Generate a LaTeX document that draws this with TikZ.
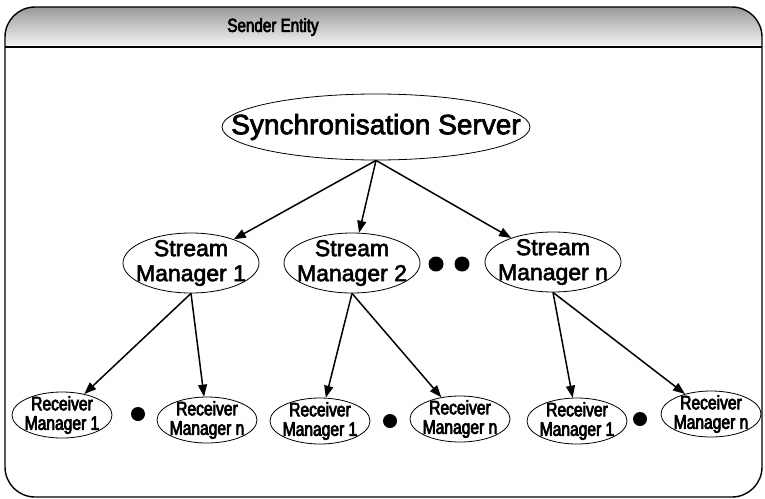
\documentclass[tikz,border=0pt]{standalone}
\usepackage{fontspec}
\setmainfont{Liberation Sans}[FakeBold=2.5]
\newfontfamily\narrowfont{Liberation Sans}[FakeStretch=0.8, FakeBold=3.5]
\usetikzlibrary{arrows.meta,shapes.geometric}

\begin{document}
\begin{tikzpicture}[
    x=1pt, y=-1pt,
    oval/.style={ellipse, draw=black, line width=0.8pt, inner sep=0pt},
    srv/.style={oval, minimum width=308pt, minimum height=66pt,
        label={[font=\fontsize{28}{32}\selectfont]center:#1}},
    mgr/.style={oval, minimum width=136pt, minimum height=60pt,
        label={[align=center, font=\fontsize{23}{25}\selectfont]center:#1}},
    rcv/.style={oval, minimum width=100pt, minimum height=46pt,
        label={[align=center, font=\narrowfont\fontsize{19.5}{19.5}\selectfont]center:#1}},
    blob/.style={circle, fill=black, inner sep=0pt, minimum size=15pt},
    link/.style={line width=1.5pt, -{Triangle[length=12pt, width=9pt]}},
    frame/.style={line width=1.4pt, rounded corners=30pt}
]

\useasboundingbox (0,0) rectangle (765,498);

% outer box with shaded title band
\begin{scope}
    \clip[rounded corners=30pt] (5,7) rectangle (762,497);
    \shade[top color=black!40, bottom color=black!3] (5,7) rectangle (762,47);
\end{scope}
\draw[frame] (5,7) rectangle (762,497);
\draw[line width=1.2pt] (5,47) -- (762,47);
\node[font=\narrowfont\fontsize{19}{20}\selectfont] (hdr) at (273,27) {Sender Entity};

% server and stream managers
\node[srv={Synchronisation Server}] (srv) at (376,127) {};
\node[mgr={Stream\\Manager 1}] (sm1) at (191,263) {};
\node[mgr={Stream\\Manager 2}] (sm2) at (352,263) {};
\node[mgr={Stream\\Manager n}] (smn) at (553,262) {};
\node[blob] (d1) at (436,264) {};
\node[blob] (d2) at (462,264) {};

% receiver managers
\node[rcv={Receiver\\Manager 1}] (r11) at (62,415) {};
\node[blob, minimum size=14pt] (d3) at (138,414) {};
\node[rcv={Receiver\\Manager n}] (r1n) at (207,420) {};
\node[rcv={Receiver\\Manager 1}] (r21) at (320,421) {};
\node[blob, minimum size=14pt] (d4) at (390,421) {};
\node[rcv={Receiver\\Manager n}] (r2n) at (460,419) {};
\node[rcv={Receiver\\Manager 1}] (r31) at (577,421) {};
\node[blob, minimum size=14pt] (d5) at (640,419) {};
\node[rcv={Receiver\\Manager n}] (r3n) at (711,414) {};

\foreach \a/\b in {srv/sm1,srv/sm2,srv/smn,sm1/r11,sm1/r1n,sm2/r21,sm2/r2n,smn/r31,smn/r3n}
    \draw[link] (\a.south) -- (\b);

\end{tikzpicture}
\end{document}
